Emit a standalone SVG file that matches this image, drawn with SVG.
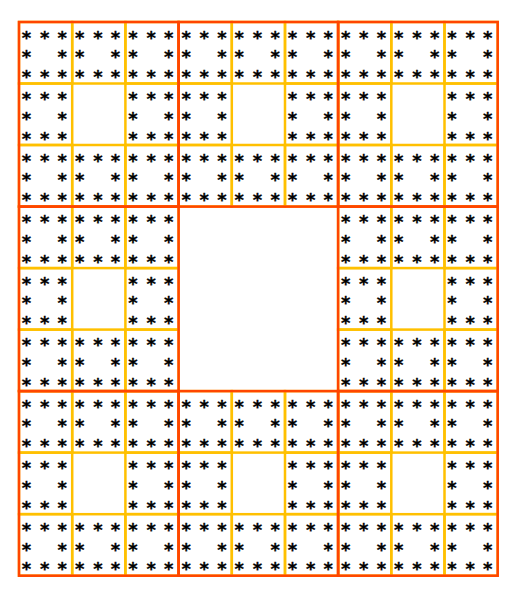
<svg xmlns="http://www.w3.org/2000/svg" width="518" height="594" viewBox="0 0 518 594">
<style>
.g{fill:none;stroke:#FFC000;stroke-width:2.5}
.r{fill:none;stroke:#FF4500;stroke-width:2.5}
text{font-family:"DejaVu Sans",sans-serif;font-weight:bold;font-size:18px;fill:#000;stroke:#000;stroke-width:0.3;text-anchor:middle}
</style>
<rect width="518" height="594" fill="#fff"/>
<g id="cells">
<g id="c0-0" transform="translate(19,22)"><rect class="g" width="53.2" height="61.5"/><text x="7.5 25.7 43.3" y="21.6">***</text><text x="7.5 43.3" y="41.4">**</text><text x="7.5 25.7 43.3" y="61">***</text></g>
<g id="c0-1" transform="translate(72.2,22)"><rect class="g" width="53.2" height="61.5"/><text x="7.5 25.7 43.3" y="21.6">***</text><text x="7.5 43.3" y="41.4">**</text><text x="7.5 25.7 43.3" y="61">***</text></g>
<g id="c0-2" transform="translate(125.4,22)"><rect class="g" width="53.2" height="61.5"/><text x="7.5 25.7 43.3" y="21.6">***</text><text x="7.5 43.3" y="41.4">**</text><text x="7.5 25.7 43.3" y="61">***</text></g>
<g id="c0-3" transform="translate(178.6,22)"><rect class="g" width="53.2" height="61.5"/><text x="7.5 25.7 43.3" y="21.6">***</text><text x="7.5 43.3" y="41.4">**</text><text x="7.5 25.7 43.3" y="61">***</text></g>
<g id="c0-4" transform="translate(231.8,22)"><rect class="g" width="53.2" height="61.5"/><text x="7.5 25.7 43.3" y="21.6">***</text><text x="7.5 43.3" y="41.4">**</text><text x="7.5 25.7 43.3" y="61">***</text></g>
<g id="c0-5" transform="translate(285,22)"><rect class="g" width="53.2" height="61.5"/><text x="7.5 25.7 43.3" y="21.6">***</text><text x="7.5 43.3" y="41.4">**</text><text x="7.5 25.7 43.3" y="61">***</text></g>
<g id="c0-6" transform="translate(338.1,22)"><rect class="g" width="53.2" height="61.5"/><text x="7.5 25.7 43.3" y="21.6">***</text><text x="7.5 43.3" y="41.4">**</text><text x="7.5 25.7 43.3" y="61">***</text></g>
<g id="c0-7" transform="translate(391.3,22)"><rect class="g" width="53.2" height="61.5"/><text x="7.5 25.7 43.3" y="21.6">***</text><text x="7.5 43.3" y="41.4">**</text><text x="7.5 25.7 43.3" y="61">***</text></g>
<g id="c0-8" transform="translate(444.5,22)"><rect class="g" width="53.2" height="61.5"/><text x="7.5 25.7 43.3" y="21.6">***</text><text x="7.5 43.3" y="41.4">**</text><text x="7.5 25.7 43.3" y="61">***</text></g>

<g id="c1-0" transform="translate(19,83.5)"><rect class="g" width="53.2" height="61.5"/><text x="7.5 25.7 43.3" y="21.6">***</text><text x="7.5 43.3" y="41.4">**</text><text x="7.5 25.7 43.3" y="61">***</text></g>
<g id="c1-2" transform="translate(125.4,83.5)"><rect class="g" width="53.2" height="61.5"/><text x="7.5 25.7 43.3" y="21.6">***</text><text x="7.5 43.3" y="41.4">**</text><text x="7.5 25.7 43.3" y="61">***</text></g>
<g id="c1-3" transform="translate(178.6,83.5)"><rect class="g" width="53.2" height="61.5"/><text x="7.5 25.7 43.3" y="21.6">***</text><text x="7.5 43.3" y="41.4">**</text><text x="7.5 25.7 43.3" y="61">***</text></g>
<g id="c1-5" transform="translate(285,83.5)"><rect class="g" width="53.2" height="61.5"/><text x="7.5 25.7 43.3" y="21.6">***</text><text x="7.5 43.3" y="41.4">**</text><text x="7.5 25.7 43.3" y="61">***</text></g>
<g id="c1-6" transform="translate(338.1,83.5)"><rect class="g" width="53.2" height="61.5"/><text x="7.5 25.7 43.3" y="21.6">***</text><text x="7.5 43.3" y="41.4">**</text><text x="7.5 25.7 43.3" y="61">***</text></g>
<g id="c1-8" transform="translate(444.5,83.5)"><rect class="g" width="53.2" height="61.5"/><text x="7.5 25.7 43.3" y="21.6">***</text><text x="7.5 43.3" y="41.4">**</text><text x="7.5 25.7 43.3" y="61">***</text></g>

<g id="c2-0" transform="translate(19,145)"><rect class="g" width="53.2" height="61.5"/><text x="7.5 25.7 43.3" y="21.6">***</text><text x="7.5 43.3" y="41.4">**</text><text x="7.5 25.7 43.3" y="61">***</text></g>
<g id="c2-1" transform="translate(72.2,145)"><rect class="g" width="53.2" height="61.5"/><text x="7.5 25.7 43.3" y="21.6">***</text><text x="7.5 43.3" y="41.4">**</text><text x="7.5 25.7 43.3" y="61">***</text></g>
<g id="c2-2" transform="translate(125.4,145)"><rect class="g" width="53.2" height="61.5"/><text x="7.5 25.7 43.3" y="21.6">***</text><text x="7.5 43.3" y="41.4">**</text><text x="7.5 25.7 43.3" y="61">***</text></g>
<g id="c2-3" transform="translate(178.6,145)"><rect class="g" width="53.2" height="61.5"/><text x="7.5 25.7 43.3" y="21.6">***</text><text x="7.5 43.3" y="41.4">**</text><text x="7.5 25.7 43.3" y="61">***</text></g>
<g id="c2-4" transform="translate(231.8,145)"><rect class="g" width="53.2" height="61.5"/><text x="7.5 25.7 43.3" y="21.6">***</text><text x="7.5 43.3" y="41.4">**</text><text x="7.5 25.7 43.3" y="61">***</text></g>
<g id="c2-5" transform="translate(285,145)"><rect class="g" width="53.2" height="61.5"/><text x="7.5 25.7 43.3" y="21.6">***</text><text x="7.5 43.3" y="41.4">**</text><text x="7.5 25.7 43.3" y="61">***</text></g>
<g id="c2-6" transform="translate(338.1,145)"><rect class="g" width="53.2" height="61.5"/><text x="7.5 25.7 43.3" y="21.6">***</text><text x="7.5 43.3" y="41.4">**</text><text x="7.5 25.7 43.3" y="61">***</text></g>
<g id="c2-7" transform="translate(391.3,145)"><rect class="g" width="53.2" height="61.5"/><text x="7.5 25.7 43.3" y="21.6">***</text><text x="7.5 43.3" y="41.4">**</text><text x="7.5 25.7 43.3" y="61">***</text></g>
<g id="c2-8" transform="translate(444.5,145)"><rect class="g" width="53.2" height="61.5"/><text x="7.5 25.7 43.3" y="21.6">***</text><text x="7.5 43.3" y="41.4">**</text><text x="7.5 25.7 43.3" y="61">***</text></g>

<g id="c3-0" transform="translate(19,206.6)"><rect class="g" width="53.2" height="61.5"/><text x="7.5 25.7 43.3" y="21.6">***</text><text x="7.5 43.3" y="41.4">**</text><text x="7.5 25.7 43.3" y="61">***</text></g>
<g id="c3-1" transform="translate(72.2,206.6)"><rect class="g" width="53.2" height="61.5"/><text x="7.5 25.7 43.3" y="21.6">***</text><text x="7.5 43.3" y="41.4">**</text><text x="7.5 25.7 43.3" y="61">***</text></g>
<g id="c3-2" transform="translate(125.4,206.6)"><rect class="g" width="53.2" height="61.5"/><text x="7.5 25.7 43.3" y="21.6">***</text><text x="7.5 43.3" y="41.4">**</text><text x="7.5 25.7 43.3" y="61">***</text></g>
<g id="c3-6" transform="translate(338.1,206.6)"><rect class="g" width="53.2" height="61.5"/><text x="7.5 25.7 43.3" y="21.6">***</text><text x="7.5 43.3" y="41.4">**</text><text x="7.5 25.7 43.3" y="61">***</text></g>
<g id="c3-7" transform="translate(391.3,206.6)"><rect class="g" width="53.2" height="61.5"/><text x="7.5 25.7 43.3" y="21.6">***</text><text x="7.5 43.3" y="41.4">**</text><text x="7.5 25.7 43.3" y="61">***</text></g>
<g id="c3-8" transform="translate(444.5,206.6)"><rect class="g" width="53.2" height="61.5"/><text x="7.5 25.7 43.3" y="21.6">***</text><text x="7.5 43.3" y="41.4">**</text><text x="7.5 25.7 43.3" y="61">***</text></g>

<g id="c4-0" transform="translate(19,268.1)"><rect class="g" width="53.2" height="61.5"/><text x="7.5 25.7 43.3" y="21.6">***</text><text x="7.5 43.3" y="41.4">**</text><text x="7.5 25.7 43.3" y="61">***</text></g>
<g id="c4-2" transform="translate(125.4,268.1)"><rect class="g" width="53.2" height="61.5"/><text x="7.5 25.7 43.3" y="21.6">***</text><text x="7.5 43.3" y="41.4">**</text><text x="7.5 25.7 43.3" y="61">***</text></g>
<g id="c4-6" transform="translate(338.1,268.1)"><rect class="g" width="53.2" height="61.5"/><text x="7.5 25.7 43.3" y="21.6">***</text><text x="7.5 43.3" y="41.4">**</text><text x="7.5 25.7 43.3" y="61">***</text></g>
<g id="c4-8" transform="translate(444.5,268.1)"><rect class="g" width="53.2" height="61.5"/><text x="7.5 25.7 43.3" y="21.6">***</text><text x="7.5 43.3" y="41.4">**</text><text x="7.5 25.7 43.3" y="61">***</text></g>

<g id="c5-0" transform="translate(19,329.6)"><rect class="g" width="53.2" height="61.5"/><text x="7.5 25.7 43.3" y="21.6">***</text><text x="7.5 43.3" y="41.4">**</text><text x="7.5 25.7 43.3" y="61">***</text></g>
<g id="c5-1" transform="translate(72.2,329.6)"><rect class="g" width="53.2" height="61.5"/><text x="7.5 25.7 43.3" y="21.6">***</text><text x="7.5 43.3" y="41.4">**</text><text x="7.5 25.7 43.3" y="61">***</text></g>
<g id="c5-2" transform="translate(125.4,329.6)"><rect class="g" width="53.2" height="61.5"/><text x="7.5 25.7 43.3" y="21.6">***</text><text x="7.5 43.3" y="41.4">**</text><text x="7.5 25.7 43.3" y="61">***</text></g>
<g id="c5-6" transform="translate(338.1,329.6)"><rect class="g" width="53.2" height="61.5"/><text x="7.5 25.7 43.3" y="21.6">***</text><text x="7.5 43.3" y="41.4">**</text><text x="7.5 25.7 43.3" y="61">***</text></g>
<g id="c5-7" transform="translate(391.3,329.6)"><rect class="g" width="53.2" height="61.5"/><text x="7.5 25.7 43.3" y="21.6">***</text><text x="7.5 43.3" y="41.4">**</text><text x="7.5 25.7 43.3" y="61">***</text></g>
<g id="c5-8" transform="translate(444.5,329.6)"><rect class="g" width="53.2" height="61.5"/><text x="7.5 25.7 43.3" y="21.6">***</text><text x="7.5 43.3" y="41.4">**</text><text x="7.5 25.7 43.3" y="61">***</text></g>

<g id="c6-0" transform="translate(19,391.1)"><rect class="g" width="53.2" height="61.5"/><text x="7.5 25.7 43.3" y="21.6">***</text><text x="7.5 43.3" y="41.4">**</text><text x="7.5 25.7 43.3" y="61">***</text></g>
<g id="c6-1" transform="translate(72.2,391.1)"><rect class="g" width="53.2" height="61.5"/><text x="7.5 25.7 43.3" y="21.6">***</text><text x="7.5 43.3" y="41.4">**</text><text x="7.5 25.7 43.3" y="61">***</text></g>
<g id="c6-2" transform="translate(125.4,391.1)"><rect class="g" width="53.2" height="61.5"/><text x="7.5 25.7 43.3" y="21.6">***</text><text x="7.5 43.3" y="41.4">**</text><text x="7.5 25.7 43.3" y="61">***</text></g>
<g id="c6-3" transform="translate(178.6,391.1)"><rect class="g" width="53.2" height="61.5"/><text x="7.5 25.7 43.3" y="21.6">***</text><text x="7.5 43.3" y="41.4">**</text><text x="7.5 25.7 43.3" y="61">***</text></g>
<g id="c6-4" transform="translate(231.8,391.1)"><rect class="g" width="53.2" height="61.5"/><text x="7.5 25.7 43.3" y="21.6">***</text><text x="7.5 43.3" y="41.4">**</text><text x="7.5 25.7 43.3" y="61">***</text></g>
<g id="c6-5" transform="translate(285,391.1)"><rect class="g" width="53.2" height="61.5"/><text x="7.5 25.7 43.3" y="21.6">***</text><text x="7.5 43.3" y="41.4">**</text><text x="7.5 25.7 43.3" y="61">***</text></g>
<g id="c6-6" transform="translate(338.1,391.1)"><rect class="g" width="53.2" height="61.5"/><text x="7.5 25.7 43.3" y="21.6">***</text><text x="7.5 43.3" y="41.4">**</text><text x="7.5 25.7 43.3" y="61">***</text></g>
<g id="c6-7" transform="translate(391.3,391.1)"><rect class="g" width="53.2" height="61.5"/><text x="7.5 25.7 43.3" y="21.6">***</text><text x="7.5 43.3" y="41.4">**</text><text x="7.5 25.7 43.3" y="61">***</text></g>
<g id="c6-8" transform="translate(444.5,391.1)"><rect class="g" width="53.2" height="61.5"/><text x="7.5 25.7 43.3" y="21.6">***</text><text x="7.5 43.3" y="41.4">**</text><text x="7.5 25.7 43.3" y="61">***</text></g>

<g id="c7-0" transform="translate(19,452.6)"><rect class="g" width="53.2" height="61.5"/><text x="7.5 25.7 43.3" y="21.6">***</text><text x="7.5 43.3" y="41.4">**</text><text x="7.5 25.7 43.3" y="61">***</text></g>
<g id="c7-2" transform="translate(125.4,452.6)"><rect class="g" width="53.2" height="61.5"/><text x="7.5 25.7 43.3" y="21.6">***</text><text x="7.5 43.3" y="41.4">**</text><text x="7.5 25.7 43.3" y="61">***</text></g>
<g id="c7-3" transform="translate(178.6,452.6)"><rect class="g" width="53.2" height="61.5"/><text x="7.5 25.7 43.3" y="21.6">***</text><text x="7.5 43.3" y="41.4">**</text><text x="7.5 25.7 43.3" y="61">***</text></g>
<g id="c7-5" transform="translate(285,452.6)"><rect class="g" width="53.2" height="61.5"/><text x="7.5 25.7 43.3" y="21.6">***</text><text x="7.5 43.3" y="41.4">**</text><text x="7.5 25.7 43.3" y="61">***</text></g>
<g id="c7-6" transform="translate(338.1,452.6)"><rect class="g" width="53.2" height="61.5"/><text x="7.5 25.7 43.3" y="21.6">***</text><text x="7.5 43.3" y="41.4">**</text><text x="7.5 25.7 43.3" y="61">***</text></g>
<g id="c7-8" transform="translate(444.5,452.6)"><rect class="g" width="53.2" height="61.5"/><text x="7.5 25.7 43.3" y="21.6">***</text><text x="7.5 43.3" y="41.4">**</text><text x="7.5 25.7 43.3" y="61">***</text></g>

<g id="c8-0" transform="translate(19,514.2)"><rect class="g" width="53.2" height="61.5"/><text x="7.5 25.7 43.3" y="21.6">***</text><text x="7.5 43.3" y="41.4">**</text><text x="7.5 25.7 43.3" y="61">***</text></g>
<g id="c8-1" transform="translate(72.2,514.2)"><rect class="g" width="53.2" height="61.5"/><text x="7.5 25.7 43.3" y="21.6">***</text><text x="7.5 43.3" y="41.4">**</text><text x="7.5 25.7 43.3" y="61">***</text></g>
<g id="c8-2" transform="translate(125.4,514.2)"><rect class="g" width="53.2" height="61.5"/><text x="7.5 25.7 43.3" y="21.6">***</text><text x="7.5 43.3" y="41.4">**</text><text x="7.5 25.7 43.3" y="61">***</text></g>
<g id="c8-3" transform="translate(178.6,514.2)"><rect class="g" width="53.2" height="61.5"/><text x="7.5 25.7 43.3" y="21.6">***</text><text x="7.5 43.3" y="41.4">**</text><text x="7.5 25.7 43.3" y="61">***</text></g>
<g id="c8-4" transform="translate(231.8,514.2)"><rect class="g" width="53.2" height="61.5"/><text x="7.5 25.7 43.3" y="21.6">***</text><text x="7.5 43.3" y="41.4">**</text><text x="7.5 25.7 43.3" y="61">***</text></g>
<g id="c8-5" transform="translate(285,514.2)"><rect class="g" width="53.2" height="61.5"/><text x="7.5 25.7 43.3" y="21.6">***</text><text x="7.5 43.3" y="41.4">**</text><text x="7.5 25.7 43.3" y="61">***</text></g>
<g id="c8-6" transform="translate(338.1,514.2)"><rect class="g" width="53.2" height="61.5"/><text x="7.5 25.7 43.3" y="21.6">***</text><text x="7.5 43.3" y="41.4">**</text><text x="7.5 25.7 43.3" y="61">***</text></g>
<g id="c8-7" transform="translate(391.3,514.2)"><rect class="g" width="53.2" height="61.5"/><text x="7.5 25.7 43.3" y="21.6">***</text><text x="7.5 43.3" y="41.4">**</text><text x="7.5 25.7 43.3" y="61">***</text></g>
<g id="c8-8" transform="translate(444.5,514.2)"><rect class="g" width="53.2" height="61.5"/><text x="7.5 25.7 43.3" y="21.6">***</text><text x="7.5 43.3" y="41.4">**</text><text x="7.5 25.7 43.3" y="61">***</text></g>
</g>
<g id="blocks">
<rect class="r" x="19" y="22" width="159.6" height="184.6"/>
<rect class="r" x="178.6" y="22" width="159.5" height="184.6"/>
<rect class="r" x="338.1" y="22" width="159.6" height="184.6"/>
<rect class="r" x="19" y="206.6" width="159.6" height="184.5"/>
<rect class="r" x="338.1" y="206.6" width="159.6" height="184.5"/>
<rect class="r" x="19" y="391.1" width="159.6" height="184.6"/>
<rect class="r" x="178.6" y="391.1" width="159.5" height="184.6"/>
<rect class="r" x="338.1" y="391.1" width="159.6" height="184.6"/>
</g>
</svg>
